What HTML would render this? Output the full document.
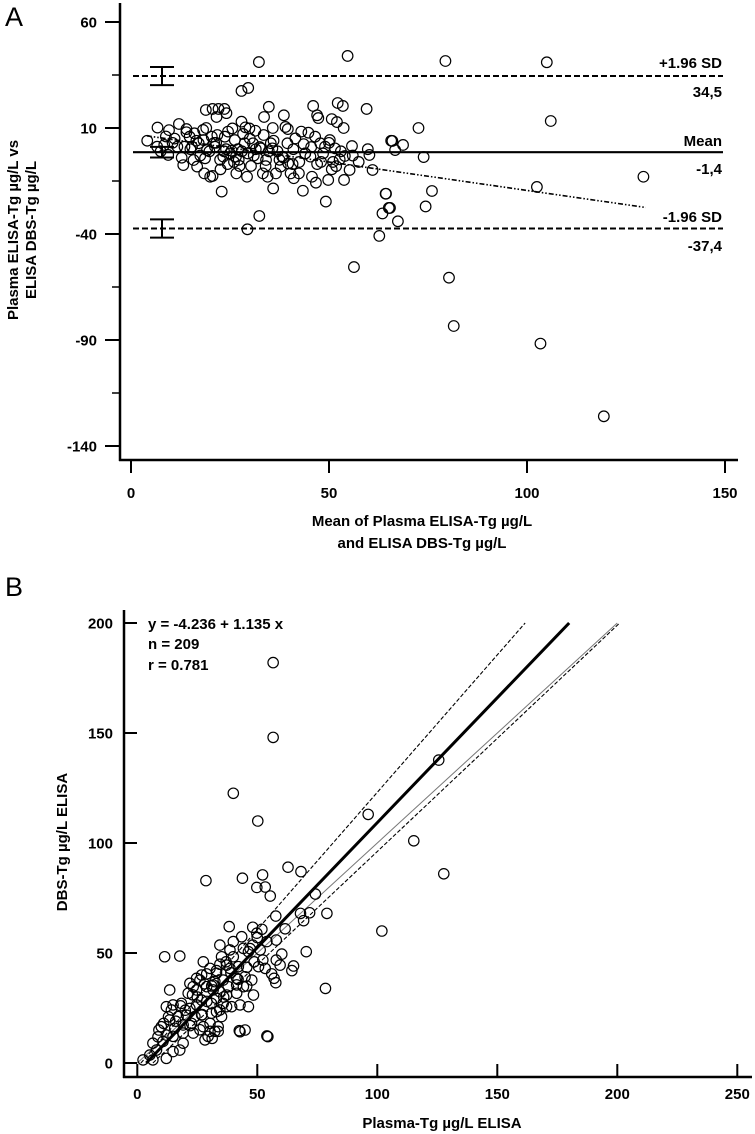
<!DOCTYPE html>
<html><head><meta charset="utf-8">
<style>
html,body{margin:0;padding:0;background:#fff;}
svg{display:block;}
text{font-family:"Liberation Sans Narrow","Liberation Sans",Arial,sans-serif;font-weight:bold;fill:#000;}
.big{font-family:"Liberation Sans",Arial,sans-serif;font-weight:normal;}
</style></head>
<body>
<svg id="chart" width="755" height="1134" viewBox="0 0 755 1134" xmlns="http://www.w3.org/2000/svg">
<g id="panelA"></g>
<g id="panelB"></g>
</svg>
<script>
// ---------- Panel A data ----------
const aMeans = [4.1,6.7,6.6,8.4,9.4,9.6,12.1,11.7,13.2,14,13.5,14.8,16,15.4,15.8,16.7,17.1,18.2,18.3,18.7,18.5,20,20.6,19.2,20.4,21.2,21.8,22.6,22.9,23.3,23.7,24.4,24.5,25.4,25.6,26.2,26.5,26.6,27.4,27.9,28.3,28.7,28.9,29.3,29.5,29.9,30.3,30.8,31.4,32,32.4,32.8,33.3,33.5,34.1,34.5,35.3,35.7,35.9,36.6,37.8,38.2,39.5,39.7,40.3,41.1,41.5,42.4,43,43.4,43.6,44.8,45.3,45.7,46.5,46.7,47.8,49,49.2,49.8,50.2,50.7,51.5,52.7,53.8,54,55.2,55.8,59.8,60.2,61,64.3,63.5,65.1,62.7,65.7,29.4,
32.3,54.7,27.9,29.6,18.9,20.6,22.1,23.6,24.1,21.6,34.8,33.6,38.6,46,47,47.3,52.2,53.5,59.5,50.7,52,39,39.6,35.8,53.7,
79.4,105,106,129.4,102.5,72.6,66,68.7,66.7,73.9,64.4,76,65.4,74.4,67.4,56.3,80.3,81.5,103.4,119.4,
7.5,10.5,12.8,15,17.5,19.8,21,22.5,24,25,26,27,28,30,31,32.5,34,36,37,38.5,41,42.5,44,45.5,47,48.5,50,51,53,56,57.5,8.8,11,14,16.5,19,21.5,23.5,27.2,31.5,34.8,37.5,40.8,44,48,51.8];
const aDiffs = [4.0,10.2,1.2,2,-2.7,9,11.9,1.2,-7.5,9.5,1.2,5.9,7.5,1.2,-5.1,-8.2,2.8,9.1,4.3,-4.3,-11.4,-13,-12.6,-0.4,5.9,1.2,6.7,-9.5,-20,-3.5,5.9,-7,8.3,-0.7,9.8,4.3,-3.5,-11.4,-7.9,13,7.2,2.8,10.3,-13,-2,9.8,-7.9,2.8,8.7,-4.3,-31.5,0.4,-11.4,6.7,-5.1,-13,2.8,0.4,-18.5,-11.4,-8.2,-3.5,2.8,-6.7,-11.4,-13.7,5.1,-11.4,8.3,-19.6,2.4,7.8,-3.5,-13,5.9,-15.8,2.8,1.2,-24.7,-14.5,4.3,-9.5,0.4,-4.8,-14.5,-3.2,-9.8,1.5,0,-2.7,-9.8,-21,-30.3,-27.7,-40.9,4,-37.8,
41.1,44,27.5,28.9,18.5,19,19,19,17,15.2,20,15.2,16,20.4,16,14.7,21.8,20.4,19,14.2,12.8,10.5,9.5,10,10,
41.6,41,13.3,-13,-17.8,10,3.9,2,-0.4,-3.7,-21,-19.7,-27.7,-27,-34,-55.6,-60.6,-83.4,-91.7,-126,
-1,3,-4,0,-3,-1,3,-5,0,-2,-6,0,-1,5,-3,1,-8,4,-1,-4,0,-6,-2,1,-7,-2,3,-6,-1,-3,-6,6,5,8,4,10,3,-1,-5,0,-1,-5,-7,-2,-6,-8];
const aMean = -1.4, aUpper = 34.5, aLower = -37.4;
const aYTicks = [60,10,-40,-90,-140];
const aYMinor = [35,-15,-65,-115];
const aXTicks = [0,50,100,150];
const aRegX = [4, 130];
const aRegY = [6.3, -27.5];

// ---------- Panel B data ----------
const bPlasma = [28.6,49.8,53.3,55.4,57.7,68,71.8,69.3,74.2,79,38.3,48.1,51.9,49.8,61.6,57.9,54,51.2,70.4,60.2,57.9,59.5,65.1,64.4,56,57,57.7,78.4,34.4,40,43.5,38.6,44.2,46.3,48.1,35.1,40,37.2,42.1,45.6,48.7,50.5,52.3,53.3,27.5,30.3,28.9,33,32.3,35.8,37.9,41.4,44.9,47.7,44.2,45.6,48.4,41.4,46.3,42.8,26.1,23.3,24.7,21.2,13.5,28.9,34.4,31.6,11.4,17.7,14.9,18.4,21.9,24.7,26.8,30.9,33,35.8,37.2,34.4,30.9,26.8,24,20.5,17,14.2,12.1,35.1,30.3,27.5,22.6,19.1,15.6,13.5,10,12.1,8.6,6.5,10.7,14.9,19.1,23.3,26.1,29.5,32.3,33.7,30.3,28.2,31.2,33.7,19.1,14.9,17.7,12.1,8,5.2,2.4,6.5,42.8,44.9,54,34.4,31.6,26.8,21.9,24.7,38.6,41.4,37.2,33,39.3,
40,50.2,43.8,52.2,62.8,68.2,56.6,56.6,96.2,125.6,115.2,127.7,101.9,54.4,42.5,
16,20,22,25,27,29,31,36,39,42,47,50,9,11,13,18,23,28,33,37];
const bDbs = [82.9,79.8,80,75.9,66.8,68,68.3,64.7,76.8,68,62,61.7,60.8,59,61,55.9,55.2,51.4,50.6,49.5,46.8,44.5,44.1,42,40.5,38.5,36.5,33.9,53.6,55.2,57.4,51.4,52.1,50.6,53.6,48.3,48.3,44.5,43.8,43.5,46,43.8,46.8,43,46,43,40.5,40.8,37,37.7,34.7,38.5,39.2,37.7,34.7,35,30.9,31.7,25.6,26.4,37.7,34.7,33.2,31.7,33.2,34.7,32.4,33.2,48.3,48.6,26.4,27.1,24.8,26.4,28.6,27.1,29.4,27.1,25.6,24.1,22.6,21.8,21.1,21.8,21.1,24.1,25.6,21.1,18,16.5,18,17.3,15.8,19.6,16.5,12.7,11.9,9,9.8,12.1,13.6,13.6,15.1,12.1,14.4,16.5,14.4,10.5,11.2,14.4,9,5.2,5.9,2.1,5.9,3.6,1.4,1.4,14.2,15,12.3,44.9,35.5,40,36.2,38.5,43,35.5,30.9,23.3,25.6,
122.6,110,84,85.5,89,87,182,148,113,137.7,101,86,60,12,14.7,
19,24,17,30,22,28,35,30,41,38,52,57,15,18,21,26,31,36,42,46];
const bYTicks = [0,50,100,150,200];
const bXTicks = [0,50,100,150,200,250];
const bIntercept = -4.236, bSlope = 1.135;
const bUpperX = [1.5, 161.6];
const bLowerX = [6.5, 201];
const bIdentity = [0, 200];

// ---------- helpers ----------
const NS = 'http://www.w3.org/2000/svg';
function mk(parent, tag, attrs, txt){
  const e = document.createElementNS(NS, tag);
  for (const k in attrs) e.setAttribute(k, attrs[k]);
  if (txt !== undefined) e.textContent = txt;
  parent.appendChild(e);
  return e;
}
const axA = v => 131 + v * 3.96;
const ayA = v => 128 - (v - 10) * 2.12;
const axB = v => 137.3 + v * 2.4;
const ayB = v => 1063 - v * 2.2;

const A = document.getElementById('panelA');
const B = document.getElementById('panelB');

// ----- Panel A -----
let t = mk(A,'text',{x:5,y:26,'font-size':27,class:'big'},'A');



let l = mk(A,'line',{x1:120,y1:3,x2:120,y2:461,stroke:'#000','stroke-width':2.5});
 
l = mk(A,'line',{x1:119,y1:460,x2:738,y2:460,stroke:'#000','stroke-width':2.5});
 

aYTicks.forEach(v=>{
  const y = ayA(v);
  const tk = mk(A,'line',{x1:105,y1:y,x2:120,y2:y,stroke:'#000','stroke-width':2});
   
  const tl = mk(A,'text',{x:97,y:y+5.5,'font-size':15,'text-anchor':'end'},String(v));
   
});
aYMinor.forEach(v=>{
  const y = ayA(v);
  const tk = mk(A,'line',{x1:112,y1:y,x2:120,y2:y,stroke:'#000','stroke-width':1.5});
   
});
aXTicks.forEach(v=>{
  const x = axA(v);
  const tk = mk(A,'line',{x1:x,y1:460,x2:x,y2:473,stroke:'#000','stroke-width':2});
   
  const tl = mk(A,'text',{x:x,y:498,'font-size':15,'text-anchor':'middle'},String(v));
   
});
t = mk(A,'text',{x:422,y:526,'font-size':15,'text-anchor':'middle'},'Mean of Plasma ELISA-Tg  µg/L');
 
t = mk(A,'text',{x:422,y:548,'font-size':15,'text-anchor':'middle'},'and ELISA DBS-Tg µg/L');
 
t = mk(A,'text',{x:0,y:0,'font-size':15,'text-anchor':'middle',transform:'translate(18,230) rotate(-90)'},'Plasma ELISA-Tg µg/L  vs');
 
t = mk(A,'text',{x:0,y:0,'font-size':15,'text-anchor':'middle',transform:'translate(36,230) rotate(-90)'},'ELISA DBS-Tg µg/L');
 

l = mk(A,'line',{x1:133,y1:ayA(aUpper),x2:723,y2:ayA(aUpper),stroke:'#000','stroke-width':2,'stroke-dasharray':'6,3'});
 
l = mk(A,'line',{x1:133,y1:ayA(aLower),x2:723,y2:ayA(aLower),stroke:'#000','stroke-width':2,'stroke-dasharray':'6,3'});
 
l = mk(A,'line',{x1:133,y1:ayA(aMean),x2:723,y2:ayA(aMean),stroke:'#000','stroke-width':2.2});
 
l = mk(A,'line',{x1:axA(aRegX[0]),y1:ayA(aRegY[0]),x2:axA(aRegX[1]),y2:ayA(aRegY[1]),stroke:'#000','stroke-width':1.6,'stroke-dasharray':'5,2,1.5,2,1.5,2'});
 

[[aUpper,-4.3,4.3],[aMean,-2.5,2.5],[aLower,-4.3,4.3]].forEach(e=>{
  const x = 162, y1 = ayA(e[0]+e[2]), y2 = ayA(e[0]+e[1]);
  const g = mk(A,'g',{stroke:'#000','stroke-width':2});
   
  mk(g,'line',{x1:x,y1:y1,x2:x,y2:y2});
  mk(g,'line',{x1:x-12,y1:y1,x2:x+12,y2:y1});
  mk(g,'line',{x1:x-12,y1:y2,x2:x+12,y2:y2});
});

for (let i=0;i<aMeans.length;i++){
  const c = mk(A,'circle',{cx:axA(aMeans[i]),cy:ayA(aDiffs[i]),r:5.3,fill:'none',stroke:'#000','stroke-width':1.2});
  
  
}
[['+1.96 SD',68],['34,5',97],['Mean',146],['-1,4',174],['-1.96 SD',222],['-37,4',251]].forEach(s=>{
  const tl = mk(A,'text',{x:722,y:s[1],'font-size':15,'text-anchor':'end'},s[0]);
   
});

// ----- Panel B -----
t = mk(B,'text',{x:5,y:596,'font-size':27,class:'big'},'B');
 
l = mk(B,'line',{x1:124,y1:610,x2:124,y2:1078,stroke:'#000','stroke-width':2.5});
 
l = mk(B,'line',{x1:123,y1:1077,x2:752,y2:1077,stroke:'#000','stroke-width':2.5});
 
bYTicks.forEach(v=>{
  const y = ayB(v);
  const tk = mk(B,'line',{x1:124,y1:y,x2:137,y2:y,stroke:'#000','stroke-width':2});
   
  const tl = mk(B,'text',{x:113,y:y+5.5,'font-size':15,'text-anchor':'end'},String(v));
   
});
bXTicks.forEach(v=>{
  const x = axB(v);
  const tk = mk(B,'line',{x1:x,y1:1064,x2:x,y2:1077,stroke:'#000','stroke-width':2});
   
  const tl = mk(B,'text',{x:x,y:1099,'font-size':15,'text-anchor':'middle'},String(v));
   
});
t = mk(B,'text',{x:442,y:1128,'font-size':15,'text-anchor':'middle'},'Plasma-Tg µg/L ELISA');
 
t = mk(B,'text',{x:0,y:0,'font-size':15,'text-anchor':'middle',transform:'translate(67,842) rotate(-90)'},'DBS-Tg µg/L ELISA');
 
[['y = -4.236  +  1.135  x',629],['n = 209',649],['r = 0.781',670]].forEach(s=>{
  const tl = mk(B,'text',{x:148,y:s[1],'font-size':15,'xml:space':'preserve'},s[0]);
   
});

l = mk(B,'line',{x1:axB(bIdentity[0]),y1:ayB(bIdentity[0]),x2:axB(bIdentity[1]),y2:ayB(bIdentity[1]),stroke:'#777','stroke-width':1});
 
l = mk(B,'line',{x1:axB(bUpperX[0]),y1:ayB(0),x2:axB(bUpperX[1]),y2:ayB(200),stroke:'#000','stroke-width':1.1,'stroke-dasharray':'4,2'});
 
l = mk(B,'line',{x1:axB(bLowerX[0]),y1:ayB(0),x2:axB(bLowerX[1]),y2:ayB(200),stroke:'#000','stroke-width':1.1,'stroke-dasharray':'4,2'});
 
const rx0 = -bIntercept/bSlope, rx1 = (200-bIntercept)/bSlope;
l = mk(B,'line',{x1:axB(rx0),y1:ayB(0),x2:axB(rx1),y2:ayB(200),stroke:'#000','stroke-width':3});
 

for (let i=0;i<bPlasma.length;i++){
  const c = mk(B,'circle',{cx:axB(bPlasma[i]),cy:ayB(bDbs[i]),r:5.2,fill:'none',stroke:'#000','stroke-width':1.2});
  
  
}
</script>
</body></html>
